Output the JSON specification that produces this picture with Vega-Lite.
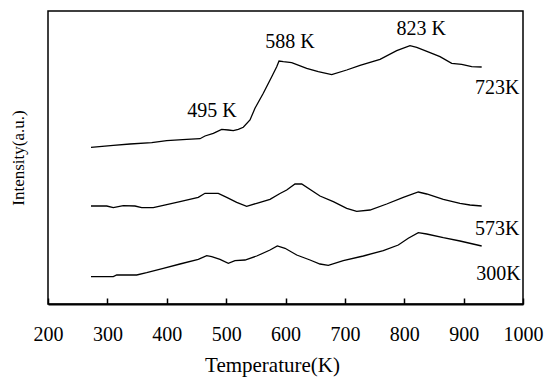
{
  "$schema": "https://vega.github.io/schema/vega-lite/v6.json",
  "width": 475,
  "height": 293,
  "autosize": {"type": "none"},
  "padding": {"left": 48, "top": 11, "right": 24, "bottom": 74},
  "background": "white",
  "config": {
    "view": {"stroke": "black", "strokeWidth": 1.5},
    "font": "Liberation Serif, Times New Roman, serif",
    "text": {"font": "Liberation Serif, Times New Roman, serif"}
  },
  "datasets": {
    "curves": [
      {"series": "723K", "T": 272.4, "I": 156.7},
      {"series": "723K", "T": 310.0, "I": 158.7},
      {"series": "723K", "T": 338.1, "I": 160.0},
      {"series": "723K", "T": 374.7, "I": 161.3},
      {"series": "723K", "T": 399.9, "I": 163.3},
      {"series": "723K", "T": 433.6, "I": 164.7},
      {"series": "723K", "T": 456.0, "I": 165.3},
      {"series": "723K", "T": 464.4, "I": 168.0},
      {"series": "723K", "T": 478.4, "I": 170.7},
      {"series": "723K", "T": 492.5, "I": 174.7},
      {"series": "723K", "T": 503.7, "I": 174.0},
      {"series": "723K", "T": 512.1, "I": 173.3},
      {"series": "723K", "T": 520.5, "I": 174.7},
      {"series": "723K", "T": 528.9, "I": 176.7},
      {"series": "723K", "T": 540.2, "I": 184.0},
      {"series": "723K", "T": 548.6, "I": 195.7},
      {"series": "723K", "T": 562.6, "I": 210.7},
      {"series": "723K", "T": 576.8, "I": 227.3},
      {"series": "723K", "T": 585.2, "I": 237.3},
      {"series": "723K", "T": 589.1, "I": 243.0},
      {"series": "723K", "T": 596.3, "I": 242.3},
      {"series": "723K", "T": 610.4, "I": 241.3},
      {"series": "723K", "T": 635.7, "I": 235.7},
      {"series": "723K", "T": 655.2, "I": 232.3},
      {"series": "723K", "T": 677.8, "I": 229.3},
      {"series": "723K", "T": 703.1, "I": 234.0},
      {"series": "723K", "T": 725.5, "I": 238.7},
      {"series": "723K", "T": 759.2, "I": 244.7},
      {"series": "723K", "T": 787.3, "I": 253.3},
      {"series": "723K", "T": 809.7, "I": 258.3},
      {"series": "723K", "T": 821.0, "I": 256.7},
      {"series": "723K", "T": 843.4, "I": 251.3},
      {"series": "723K", "T": 860.2, "I": 247.3},
      {"series": "723K", "T": 879.9, "I": 240.7},
      {"series": "723K", "T": 896.7, "I": 239.7},
      {"series": "723K", "T": 913.6, "I": 237.3},
      {"series": "723K", "T": 930.4, "I": 237.0},
      {"series": "573K", "T": 272.4, "I": 98.0},
      {"series": "573K", "T": 298.9, "I": 98.0},
      {"series": "573K", "T": 310.0, "I": 96.3},
      {"series": "573K", "T": 326.8, "I": 98.3},
      {"series": "573K", "T": 346.5, "I": 98.0},
      {"series": "573K", "T": 357.8, "I": 96.3},
      {"series": "573K", "T": 377.3, "I": 96.3},
      {"series": "573K", "T": 399.9, "I": 99.3},
      {"series": "573K", "T": 422.3, "I": 102.3},
      {"series": "573K", "T": 453.1, "I": 106.7},
      {"series": "573K", "T": 464.4, "I": 110.7},
      {"series": "573K", "T": 486.8, "I": 110.7},
      {"series": "573K", "T": 501.0, "I": 106.7},
      {"series": "573K", "T": 517.8, "I": 101.7},
      {"series": "573K", "T": 534.6, "I": 97.7},
      {"series": "573K", "T": 551.5, "I": 100.7},
      {"series": "573K", "T": 573.9, "I": 104.7},
      {"series": "573K", "T": 590.7, "I": 110.5},
      {"series": "573K", "T": 602.0, "I": 114.0},
      {"series": "573K", "T": 616.0, "I": 120.0},
      {"series": "573K", "T": 627.3, "I": 120.0},
      {"series": "573K", "T": 658.1, "I": 108.0},
      {"series": "573K", "T": 680.5, "I": 102.3},
      {"series": "573K", "T": 703.1, "I": 95.7},
      {"series": "573K", "T": 719.9, "I": 92.7},
      {"series": "573K", "T": 742.3, "I": 94.0},
      {"series": "573K", "T": 770.4, "I": 100.0},
      {"series": "573K", "T": 798.4, "I": 106.7},
      {"series": "573K", "T": 823.7, "I": 112.0},
      {"series": "573K", "T": 837.8, "I": 110.0},
      {"series": "573K", "T": 865.8, "I": 104.7},
      {"series": "573K", "T": 893.9, "I": 100.7},
      {"series": "573K", "T": 910.7, "I": 99.0},
      {"series": "573K", "T": 930.4, "I": 98.0},
      {"series": "300K", "T": 272.4, "I": 27.3},
      {"series": "300K", "T": 310.0, "I": 27.3},
      {"series": "300K", "T": 315.7, "I": 29.0},
      {"series": "300K", "T": 349.4, "I": 29.0},
      {"series": "300K", "T": 366.2, "I": 31.3},
      {"series": "300K", "T": 394.2, "I": 35.7},
      {"series": "300K", "T": 422.3, "I": 40.0},
      {"series": "300K", "T": 453.1, "I": 44.7},
      {"series": "300K", "T": 467.3, "I": 48.3},
      {"series": "300K", "T": 475.7, "I": 47.3},
      {"series": "300K", "T": 489.7, "I": 44.7},
      {"series": "300K", "T": 503.7, "I": 40.7},
      {"series": "300K", "T": 514.9, "I": 43.3},
      {"series": "300K", "T": 531.8, "I": 44.0},
      {"series": "300K", "T": 551.5, "I": 48.0},
      {"series": "300K", "T": 573.9, "I": 54.0},
      {"series": "300K", "T": 586.2, "I": 58.0},
      {"series": "300K", "T": 599.2, "I": 55.7},
      {"series": "300K", "T": 618.9, "I": 49.0},
      {"series": "300K", "T": 641.3, "I": 44.0},
      {"series": "300K", "T": 658.1, "I": 40.0},
      {"series": "300K", "T": 672.1, "I": 38.7},
      {"series": "300K", "T": 697.3, "I": 43.3},
      {"series": "300K", "T": 731.0, "I": 48.0},
      {"series": "300K", "T": 764.7, "I": 53.3},
      {"series": "300K", "T": 790.0, "I": 59.0},
      {"series": "300K", "T": 806.8, "I": 65.7},
      {"series": "300K", "T": 823.7, "I": 71.3},
      {"series": "300K", "T": 837.8, "I": 70.0},
      {"series": "300K", "T": 865.8, "I": 66.3},
      {"series": "300K", "T": 893.9, "I": 63.0},
      {"series": "300K", "T": 930.4, "I": 58.0}
    ],
    "peaks": [
      {"label": "495 K", "T": 476.2, "I": 193},
      {"label": "588 K", "T": 607.6, "I": 262},
      {"label": "823 K", "T": 828.7, "I": 275}
    ],
    "names": [
      {"label": "723K", "T": 994.0, "I": 216.5},
      {"label": "573K", "T": 994.0, "I": 75.5},
      {"label": "300K", "T": 996.0, "I": 30}
    ]
  },
  "layer": [
    {
      "data": {"name": "curves"},
      "mark": {"type": "line", "color": "black", "strokeWidth": 1.3},
      "encoding": {
        "x": {
          "field": "T",
          "type": "quantitative",
          "scale": {"domain": [200, 1000], "nice": false, "zero": false},
          "axis": {
            "title": "Temperature(K)",
            "values": [200, 300, 400, 500, 600, 700, 800, 900, 1000],
            "format": "d",
            "grid": false,
            "tickSize": -6,
            "tickColor": "black",
            "tickWidth": 1.5,
            "domainColor": "black",
            "domainWidth": 2,
            "labelFont": "Liberation Serif, Times New Roman, serif",
            "labelFontSize": 20,
            "labelColor": "black",
            "labelPadding": 26,
            "labelFlush": false,
            "labelOverlap": false,
            "titleFont": "Liberation Serif, Times New Roman, serif",
            "titleFontSize": 21,
            "titleFontWeight": "normal",
            "titleColor": "black",
            "titlePadding": 10,
            "titleX": 224,
            "titleAnchor": "start",
            "titleAlign": "center"
          }
        },
        "y": {
          "field": "I",
          "type": "quantitative",
          "scale": {"domain": [0, 293], "nice": false},
          "axis": {
            "title": "Intensity(a.u.)",
            "labels": false,
            "ticks": false,
            "domain": false,
            "grid": false,
            "titleFont": "Liberation Serif, Times New Roman, serif",
            "titleFontSize": 17,
            "titleFontWeight": "normal",
            "titleColor": "black",
            "titlePadding": 21
          }
        },
        "detail": {"field": "series"}
      }
    },
    {
      "data": {"name": "peaks"},
      "mark": {"type": "text", "font": "Liberation Serif, Times New Roman, serif", "fontSize": 20, "align": "center", "baseline": "middle", "color": "black"},
      "encoding": {
        "x": {"field": "T", "type": "quantitative"},
        "y": {"field": "I", "type": "quantitative"},
        "text": {"field": "label"}
      }
    },
    {
      "data": {"name": "names"},
      "mark": {"type": "text", "font": "Liberation Serif, Times New Roman, serif", "fontSize": 20, "align": "right", "baseline": "middle", "color": "black"},
      "encoding": {
        "x": {"field": "T", "type": "quantitative"},
        "y": {"field": "I", "type": "quantitative"},
        "text": {"field": "label"}
      }
    }
  ]
}
